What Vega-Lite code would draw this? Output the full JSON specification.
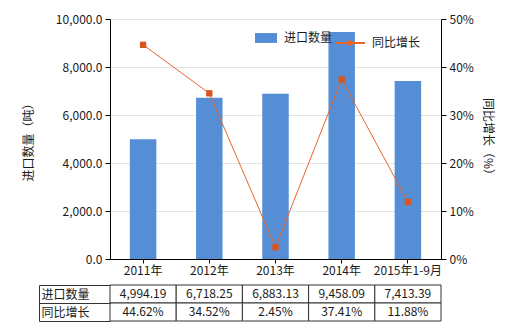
{
  "$schema": "https://vega.github.io/schema/vega-lite/v6.json",
  "background": "white",
  "padding": {"left": 22, "top": 13, "right": 5, "bottom": 5},
  "config": {
    "font": "Noto Sans CJK SC",
    "view": {"stroke": null},
    "axis": {"labelFont": "Noto Sans CJK SC", "labelFontSize": 12, "labelColor": "#1a1a1a", "titleFont": "Noto Sans CJK SC", "titleFontSize": 12, "titleFontWeight": "normal", "titleColor": "#1a1a1a", "domainColor": "#000", "tickColor": "#000", "gridColor": "#e3e3e3"},
    "legend": {"labelFont": "Noto Sans CJK SC", "labelFontSize": 12, "labelColor": "#1a1a1a", "padding": 0}
  },
  "bounds": "flush",
  "spacing": 26,
  "data": {"values": [
    {"year": "2011年", "qty": 4994.19, "pct": 0.4462},
    {"year": "2012年", "qty": 6718.25, "pct": 0.3452},
    {"year": "2013年", "qty": 6883.13, "pct": 0.0245},
    {"year": "2014年", "qty": 9458.09, "pct": 0.3741},
    {"year": "2015年1-9月", "qty": 7413.39, "pct": 0.1188}
  ]},
  "resolve": {"scale": {"x": "independent", "y": "independent"}},
  "vconcat": [
    {
      "width": 331,
      "height": 240,
      "encoding": {
        "x": {"field": "year", "type": "nominal", "sort": null, "scale": {"paddingInner": 0.6, "paddingOuter": 0.3}, "axis": {"title": null, "labelAngle": 0, "tickSize": 4, "labelPadding": 2, "grid": false}}
      },
      "layer": [
        {
          "mark": {"type": "bar"},
          "encoding": {
            "y": {"field": "qty", "type": "quantitative", "scale": {"domain": [0, 10000]}, "axis": {"title": "进口数量（吨）", "format": ",.1f", "values": [0, 2000, 4000, 6000, 8000, 10000], "tickSize": 5, "labelPadding": 3, "titlePadding": 20, "grid": true}},
            "fill": {"datum": "进口数量", "scale": {"range": ["#558ED5"]}, "legend": {"title": null, "orient": "none", "legendX": 145, "legendY": 8, "symbolType": "M-1,-0.45H1V0.45H-1Z", "symbolSize": 484, "labelOffset": 7, "symbolStrokeWidth": 0}}
          }
        },
        {
          "encoding": {
            "y": {"field": "pct", "type": "quantitative", "scale": {"domain": [0, 0.5]}, "axis": {"title": "同比增长（%）", "orient": "right", "format": ".0%", "values": [0, 0.1, 0.2, 0.3, 0.4, 0.5], "tickSize": 5, "labelPadding": 3, "titlePadding": 7, "grid": false}}
          },
          "layer": [
            {
              "mark": {"type": "line", "strokeWidth": 1},
              "encoding": {
                "stroke": {"datum": "同比增长", "scale": {"range": ["#E8652A"]}, "legend": {"title": null, "orient": "none", "legendX": 224, "legendY": 8, "symbolType": "M-1,0H1M-0.1,-0.1H0.1V0.1H-0.1Z", "symbolSize": 900, "symbolStrokeWidth": 2, "labelOffset": 6, "encode": {"symbols": {"update": {"fill": {"value": "#D9541E"}, "stroke": {"value": "#D9541E"}}}}}}
              }
            },
            {
              "mark": {"type": "point", "shape": "square", "filled": true, "size": 40, "color": "#D9541E", "opacity": 1},
              "encoding": {}
            }
          ]
        }
      ],
      "resolve": {"scale": {"y": "independent"}}
    },
    {
      "width": 331,
      "height": 36,
      "encoding": {
        "x": {"field": "year", "type": "nominal", "sort": null, "scale": {"paddingInner": 0, "paddingOuter": 0}, "axis": null}
      },
      "layer": [
        {
          "mark": {"type": "rect", "fill": "white", "stroke": "#333", "strokeWidth": 1},
          "encoding": {
            "y": {"datum": "进口数量", "type": "nominal", "scale": {"domain": ["进口数量", "同比增长"], "paddingInner": 0, "paddingOuter": 0}, "axis": {"title": null, "orient": "left", "offset": 71, "tickSize": -71, "tickBand": "extent", "labelAlign": "left", "labelPadding": 69, "domainColor": "#333", "tickColor": "#333", "labelColor": "#1a1a1a", "labelFontSize": 12}}
          }
        },
        {
          "mark": {"type": "rect", "fill": "white", "stroke": "#333", "strokeWidth": 1},
          "encoding": {"y": {"datum": "同比增长", "type": "nominal"}}
        },
        {
          "mark": {"type": "text", "fontSize": 12, "color": "#1a1a1a"},
          "encoding": {"y": {"datum": "进口数量", "type": "nominal"}, "text": {"field": "qty", "type": "quantitative", "format": ",.2f"}}
        },
        {
          "mark": {"type": "text", "fontSize": 12, "color": "#1a1a1a"},
          "encoding": {"y": {"datum": "同比增长", "type": "nominal"}, "text": {"field": "pct", "type": "quantitative", "format": ".2%"}}
        }
      ]
    }
  ]
}
